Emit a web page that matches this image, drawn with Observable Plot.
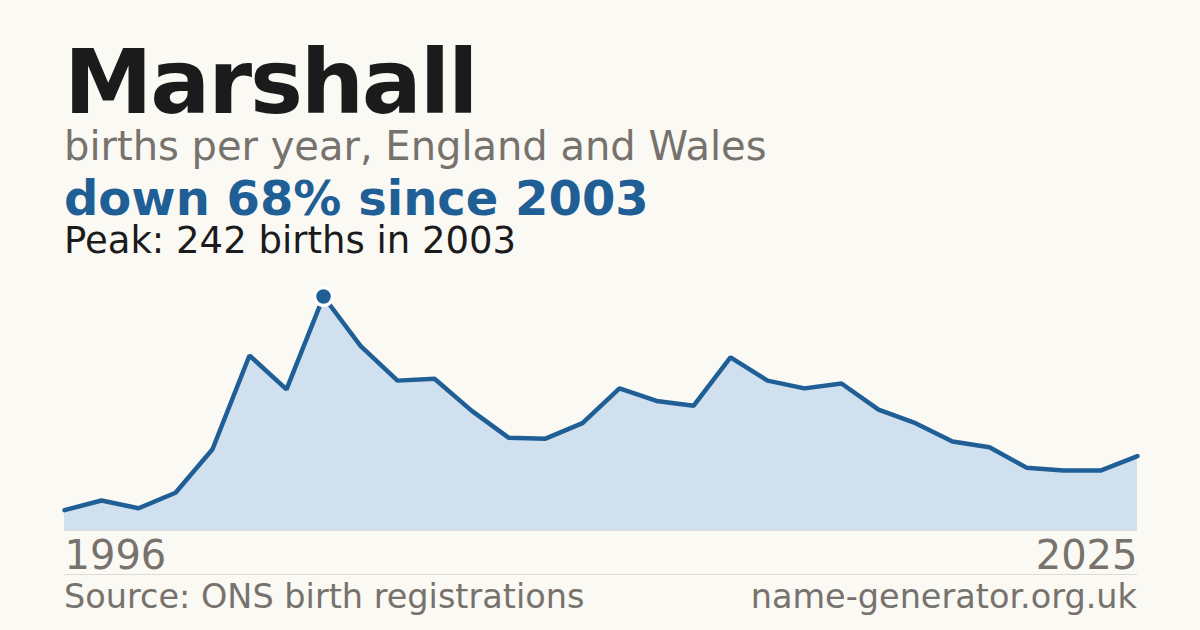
<!DOCTYPE html>
<html>
<head>
<meta charset="utf-8">
<script src="https://cdn.jsdelivr.net/npm/d3@7"></script>
<script src="https://cdn.jsdelivr.net/npm/@observablehq/plot@0.6"></script>
<style>
  html, body { margin: 0; padding: 0; background: #faf9f4; }
  #wrap { position: relative; width: 1200px; height: 630px; overflow: hidden; background: #faf9f4; font-family: "DejaVu Sans", sans-serif; }
  .t { position: absolute; left: 64px; white-space: nowrap; line-height: 0.9; }
  #title { top: 42px; font-size: 89px; font-weight: bold; color: #1b1b1b; letter-spacing: -2.2px; }
  #sub { top: 128px; font-size: 40px; color: #77726c; }
  #hl { top: 177px; font-size: 48px; font-weight: bold; color: #1f5f96; }
  #peak { top: 224px; font-size: 37px; color: #1b1b1b; }
  #chart { position: absolute; left: 0; top: 265px; }
  #chart svg { overflow: visible; }
  #rule { position: absolute; left: 64px; width: 1073px; top: 574px; height: 1px; background: #dedbd4; }
  .foot { position: absolute; top: 582px; font-size: 33.5px; color: #77726c; white-space: nowrap; line-height: 0.9; }
  #src { left: 64px; }
  #site { right: 63px; }
</style>
</head>
<body>
<div id="wrap">
  <div class="t" id="title">Marshall</div>
  <div class="t" id="sub">births per year, England and Wales</div>
  <div class="t" id="hl">down 68% since 2003</div>
  <div class="t" id="peak">Peak: 242 births in 2003</div>
  <div id="chart"></div>
  <div id="rule"></div>
  <div class="foot" id="src">Source: ONS birth registrations</div>
  <div class="foot" id="site">name-generator.org.uk</div>
</div>
<script>
const years = [1996,1997,1998,1999,2000,2001,2002,2003,2004,2005,2006,2007,2008,2009,2010,2011,2012,2013,2014,2015,2016,2017,2018,2019,2020,2021,2022,2023,2024,2025];
const births = [21,31,23,39,84,181,146,242,191,155,157,124,96,95,111,147,134,129,179,155,147,152,125,111,92,86,65,62,62,77];
const peakYear = 2003;
const peakValue = 242;
const tickYears = [1996, 2025];

const data = years.map((y, i) => ({year: y, births: births[i]}));
const peak = [{year: peakYear, births: peakValue}];

const lineColor = "#1f5f96";

const chart = Plot.plot({
  width: 1200,
  height: 320,
  marginLeft: 64,
  marginRight: 63,
  marginTop: 31,
  marginBottom: 55,
  style: { background: "transparent", fontFamily: "DejaVu Sans, sans-serif", overflow: "visible" },
  x: { domain: [years[0], years[years.length - 1]] },
  y: { domain: [0, peakValue], axis: null },
  marks: [
    Plot.areaY(data, { x: "year", y: "births", fill: "#d0e0ef" }),
    Plot.ruleY([0], { stroke: "#dedbd4", strokeWidth: 1 }),
    Plot.lineY(data, { x: "year", y: "births", stroke: lineColor, strokeWidth: 4.5, strokeLinejoin: "miter" }),
    Plot.dot(peak, { x: "year", y: "births", r: 9, fill: lineColor, stroke: "#ffffff", strokeWidth: 3.5 }),
    Plot.axisX([tickYears[0]], { tickSize: 0, tickPadding: 10, fontSize: 40, textAnchor: "start", fill: "#77726c", tickFormat: d => String(d), label: null }),
    Plot.axisX([tickYears[1]], { tickSize: 0, tickPadding: 10, fontSize: 40, textAnchor: "end", fill: "#77726c", tickFormat: d => String(d), label: null })
  ]
});
document.getElementById("chart").appendChild(chart);
</script>
</body>
</html>
